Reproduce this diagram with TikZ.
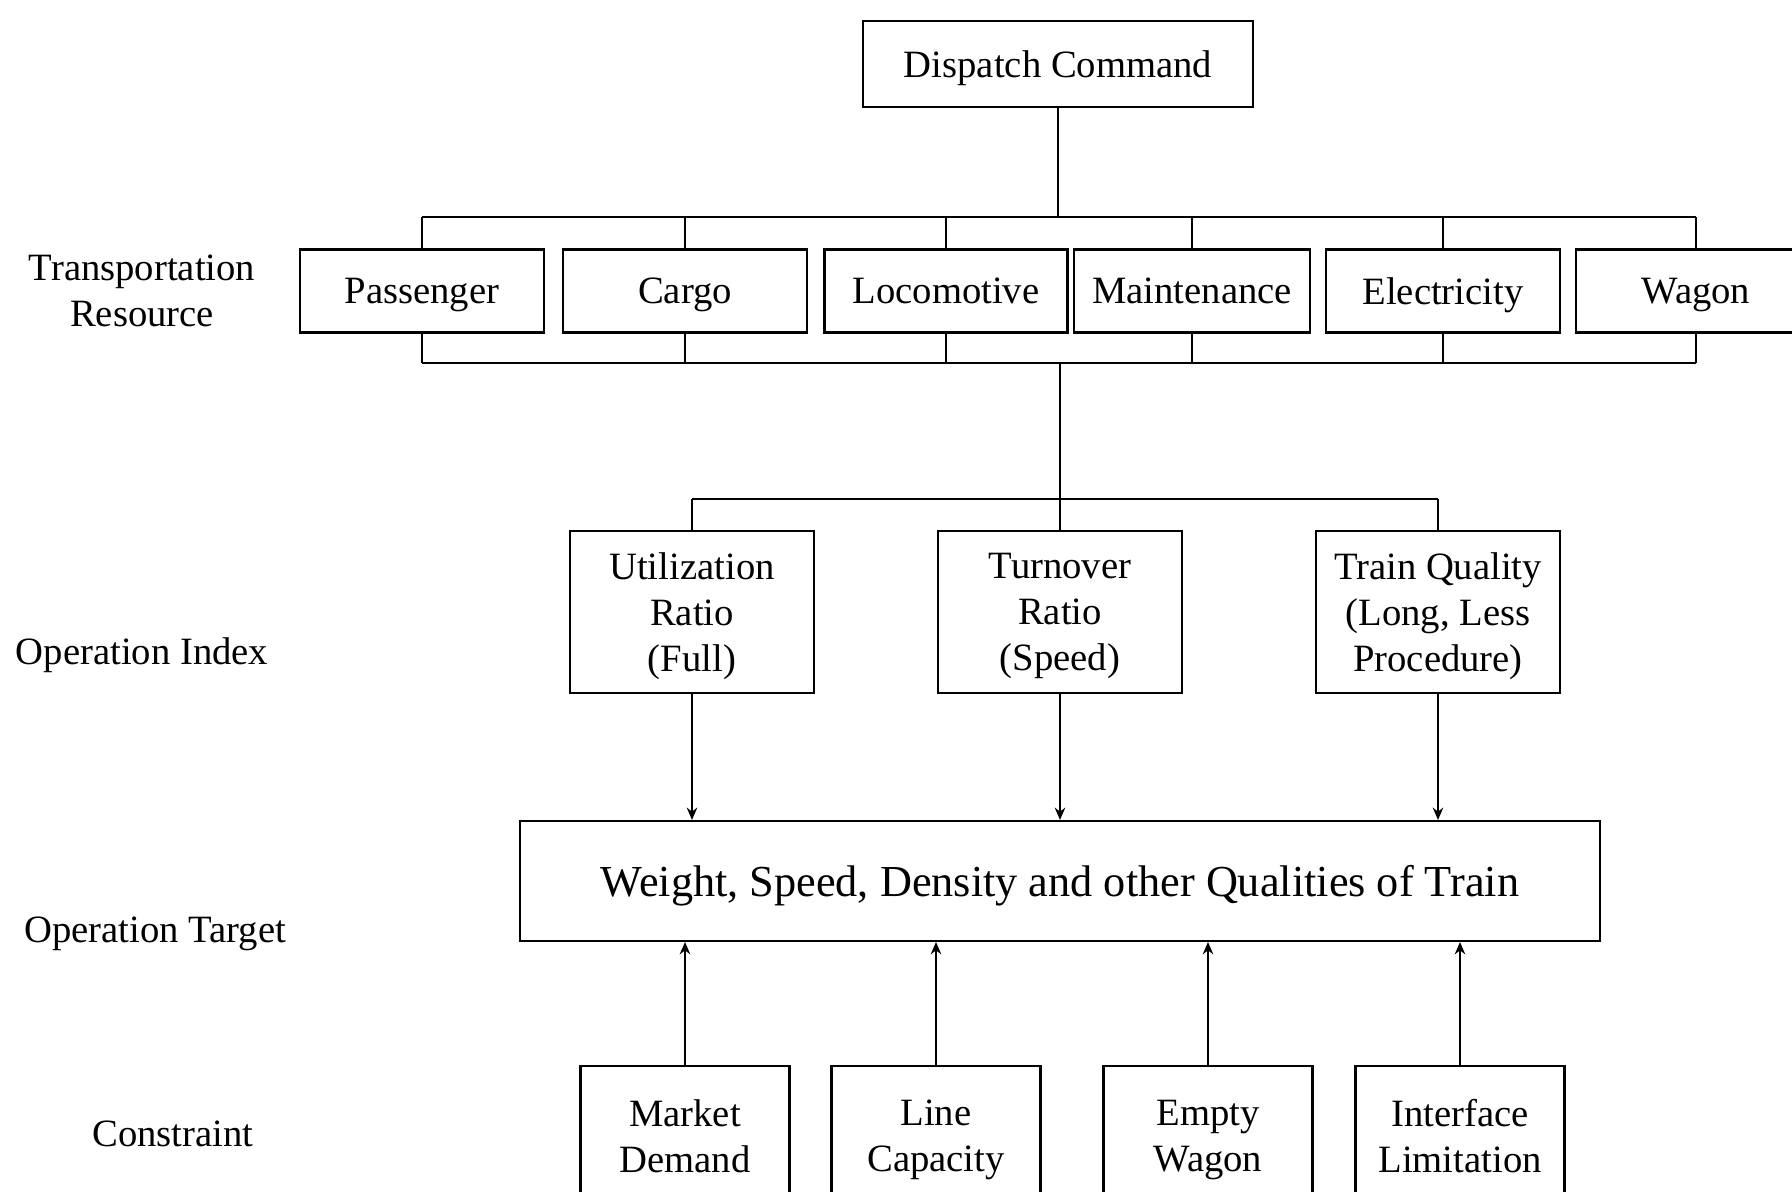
\documentclass[tikz,border=0pt]{standalone}
\usepackage{fontspec}
\setmainfont{Liberation Serif}
\usetikzlibrary{arrows.meta}

\tikzset{
  box/.style={draw,line width=0.6pt,inner sep=0pt,text depth=0pt,align=center,font=\fontsize{11}{13.1}\selectfont},
  resbox/.style={box,minimum width=2.44cm,minimum height=0.83cm},
  idxbox/.style={box,minimum width=2.44cm,minimum height=1.62cm},
  conbox/.style={box,minimum width=2.09cm,minimum height=1.40cm},
  tag/.style={align=center,font=\fontsize{11}{13.1}\selectfont},
}

\begin{document}
\begin{tikzpicture}[>={Stealth[length=3.5pt,width=3pt]},line width=0.5pt]
                \clip (0,0) rectangle (17.92,11.92);

                % levels on the left
                \node[tag] (tres) at(1.42,9.01) {Transportation\\Resource};
                \node[tag] (tidx) at(1.42,5.37) {Operation Index};
                \node[tag] (ttar) at(1.55,2.58) {Operation Target};
                \node[tag] (tcon) at(1.73,0.58) {Constraint};

                \node[box,minimum width=3.90cm,minimum height=0.86cm] (disp) at(10.58,11.28) {Dispatch Command};

                \node[resbox] (pass) at(4.22,9.01) {Passenger};
                \node[resbox] (cargo) at(6.85,9.01) {Cargo};
                \node[resbox,minimum width=2.43cm] (loco) at(9.46,9.01) {Locomotive};
                \node[resbox,minimum width=2.36cm] (maint) at(11.92,9.01) {Maintenance};
                \node[resbox,minimum width=2.34cm] (elec) at(14.43,9.01) {Electricity};
                \node[resbox,minimum width=2.40cm] (wagon) at(16.96,9.01) {Wagon};

                \node[idxbox] (util) at(6.92,5.80) {Utilization\\Ratio\\(Full)};
                \node[idxbox] (turn) at(10.60,5.80) {Turnover\\Ratio\\(Speed)};
                \node[idxbox] (qual) at(14.38,5.80) {Train Quality\\(Long, Less\\Procedure)};

                \node[box,minimum width=10.80cm,minimum height=1.20cm,font=\fontsize{12.6}{15}\selectfont] (target) at(10.60,3.11) {Weight, Speed, Density and other Qualities of Train};

                \node[conbox] (demand) at(6.85,0.56) {Market\\Demand};
                \node[conbox] (capac) at(9.36,0.56) {Line\\Capacity};
                \node[conbox] (empty) at(12.08,0.56) {Empty\\Wagon};
                \node[conbox] (iface) at(14.60,0.56) {Interface\\Limitation};

                % buses
                \coordinate (tbus) at(0,9.75);
                \coordinate (bbus) at(0,8.29);
                \coordinate (ibus) at(0,6.93);

                \draw (disp) -- (disp |- tbus);
                \draw (pass.north |- tbus) -- (wagon.north |- tbus);
                \draw (pass.south |- bbus) -- (wagon.south |- bbus);
                \foreach \n in {pass,cargo,loco,maint,elec,wagon}{
                  \draw (\n.north) -- (\n.north |- tbus);
                  \draw (\n.south) -- (\n.south |- bbus);
                }
                \draw (turn.north |- bbus) -- (turn.north);
                \draw (util.north |- ibus) -- (qual.north |- ibus);
                \draw (util.north) -- (util.north |- ibus);
                \draw (qual.north) -- (qual.north |- ibus);

                \foreach \n in {util,turn,qual}
                  \draw[->] (\n.south) -- (\n.south |- target.north);
                \foreach \n in {demand,capac,empty,iface}
                  \draw[->] (\n.north) -- (\n.north |- target.south);
\end{tikzpicture}
\end{document}
